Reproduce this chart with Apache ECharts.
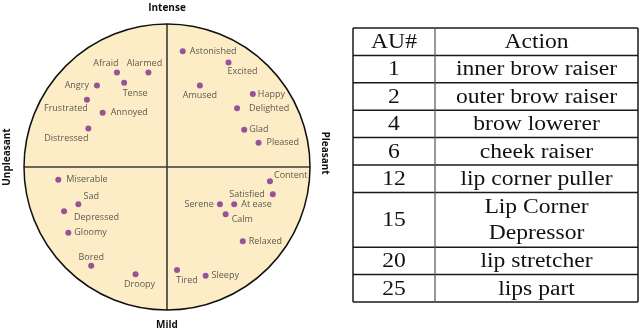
<!DOCTYPE html>
<html><head><meta charset="utf-8">
<script src="https://cdn.jsdelivr.net/npm/echarts@6/dist/echarts.min.js"></script>
<style>html,body{margin:0;padding:0;background:#fff}#c{width:640px;height:333px}</style>
</head><body><div id="c"></div>
<script>
// Emotion words, valence (x) and arousal (y) on -1..1
const emotions = ['Afraid','Alarmed','Angry','Tense','Frustrated','Annoyed','Distressed',
  'Astonished','Excited','Amused','Happy','Delighted','Glad','Pleased',
  'Miserable','Sad','Depressed','Gloomy','Bored','Droopy',
  'Content','Satisfied','Serene','At ease','Calm','Relaxed','Tired','Sleepy'];
const valence = [-0.35,-0.13,-0.49,-0.30,-0.56,-0.45,-0.55,
  0.11,0.43,0.23,0.60,0.49,0.54,0.64,
  -0.76,-0.62,-0.72,-0.69,-0.53,-0.22,
  0.72,0.74,0.37,0.47,0.41,0.53,0.07,0.27];
const arousal = [0.66,0.66,0.57,0.59,0.47,0.38,0.27,
  0.81,0.73,0.57,0.51,0.41,0.26,0.17,
  -0.09,-0.26,-0.31,-0.46,-0.69,-0.75,
  -0.10,-0.19,-0.26,-0.26,-0.33,-0.52,-0.72,-0.76];
const axisNames = ['Intense','Mild','Unpleasant','Pleasant'];
// Table
const auNumbers = ['1','2','4','6','12','15','20','25'];
const auActions = ['inner brow raiser','outer brow raiser','brow lowerer','cheek raiser',
  'lip corner puller','Lip Corner\nDepressor','lip stretcher','lips part'];
const tableHeader = ['AU#','Action'];

// label placement (style)
const labelStyle = {
  'Afraid':['top',2,[-11,0]],'Alarmed':['top',2,[-4,0]],'Angry':['left',5,[0,0]],
  'Tense':['bottom',3,[11,0]],'Frustrated':['bottom',1,[-21,0]],'Annoyed':['right',5,[0,0]],
  'Distressed':['bottom',3,[-22,0]],'Astonished':['right',4,[0,0]],'Excited':['bottom',1,[14,0]],
  'Amused':['bottom',2,[0,0]],'Happy':['right',2,[0,0]],'Delighted':['right',9,[0,0]],
  'Glad':['right',2,[0,0]],'Pleased':['right',5,[0,0]],'Miserable':['right',5,[0,0]],
  'Sad':['top',0,[13,0]],'Depressed':['right',7,[0,6]],'Gloomy':['right',3,[0,0]],
  'Bored':['top',1,[0,0]],'Droopy':['bottom',3,[4,0]],'Content':['right',1,[0,-6]],
  'Satisfied':['left',5,[0,0]],'Serene':['left',3,[0,0]],'At ease':['right',4,[0,0]],
  'Calm':['right',3,[0,5]],'Relaxed':['right',3,[0,0]],'Tired':['bottom',3,[10,0]],
  'Sleepy':['right',3,[0,0]]
};

const chart = echarts.init(document.getElementById('c'));
const pts = emotions.map((n,i)=>{
  const s = labelStyle[n];
  return {name:n, value:[valence[i],arousal[i]],
    label:{show:true, position:s[0], distance:s[1], offset:s[2], formatter:'{b}'}};
});

// table graphics
const T = {x0:353, x1:435, x2:638, y0:28, rh:27.4};
const gfx = [];
const lineStyle = {stroke:'#1a1a1a', lineWidth:1.5};
let y = T.y0;
const rows = [tableHeader].concat(auNumbers.map((a,i)=>[a,auActions[i]]));
const ys=[y];
const tfont = '20px "Liberation Serif"';
rows.forEach(r=>{
  const h = T.rh * (r[1].split('\n').length);
  gfx.push({type:'text', x:(T.x0+T.x1)/2, y:y+h/2+1, scaleX:1.18, style:{text:r[0], font:tfont, fill:'#111', align:'center', verticalAlign:'middle'}});
  gfx.push({type:'text', x:(T.x1+T.x2)/2, y:y+h/2+1, scaleX:1.18, style:{text:r[1], font:tfont, fill:'#111', align:'center', verticalAlign:'middle', lineHeight:26}});
  y += h; ys.push(y);
});
ys.forEach(yy=>gfx.push({type:'line', shape:{x1:T.x0,y1:yy,x2:T.x2,y2:yy}, style:lineStyle}));
[T.x0,T.x2].forEach(xx=>gfx.push({type:'line', shape:{x1:xx,y1:T.y0,x2:xx,y2:y}, style:lineStyle}));
gfx.push({type:'line', shape:{x1:T.x1,y1:T.y0,x2:T.x1,y2:y}, style:{stroke:'#555',lineWidth:1.2}});

// axis name texts
const tf = 'bold 10px "Open Sans"';
gfx.push({type:'text', x:167, y:8, style:{text:axisNames[0], font:tf, fill:'#111', align:'center', verticalAlign:'middle'}});
gfx.push({type:'text', x:167, y:325, style:{text:axisNames[1], font:tf, fill:'#111', align:'center', verticalAlign:'middle'}});
gfx.push({type:'text', x:7, y:157, rotation:Math.PI/2, style:{text:axisNames[2], font:tf, fill:'#111', align:'center', verticalAlign:'middle'}});
gfx.push({type:'text', x:325, y:153, rotation:-Math.PI/2, style:{text:axisNames[3], font:tf, fill:'#111', align:'center', verticalAlign:'middle'}});

chart.setOption({
  animation:false,
  grid:{left:24, top:24, width:286, height:286},
  xAxis:{type:'value', min:-1, max:1, show:false},
  yAxis:{type:'value', min:-1, max:1, show:false},
  graphic: gfx,
  series:[
    {type:'custom', z:1, silent:true, data:[[0,0]],
      renderItem:(p,api)=>{
        const c = api.coord([0,0]);
        const l = api.coord([-1,0]), r = api.coord([1,0]), t = api.coord([0,1]), b = api.coord([0,-1]);
        const rad = (r[0]-l[0])/2;
        return {type:'group', children:[
          {type:'circle', shape:{cx:c[0],cy:c[1],r:rad}, style:{fill:'#FDEDC6', stroke:null}},
          {type:'line', shape:{x1:l[0],y1:c[1],x2:r[0],y2:c[1]}, style:{stroke:'#3a3a3a',lineWidth:1.6}},
          {type:'line', shape:{x1:c[0],y1:t[1],x2:c[0],y2:b[1]}, style:{stroke:'#3a3a3a',lineWidth:1.6}},
          {type:'circle', shape:{cx:c[0],cy:c[1],r:rad}, style:{fill:null, stroke:'#111', lineWidth:1.5}}
        ]};
      }},
    {type:'scatter', z:3, symbolSize:6, itemStyle:{color:'#7E2C8C'},
      label:{color:'#333', fontSize:9, fontFamily:'Open Sans'},
      data:pts}
  ]
});
</script></body></html>
